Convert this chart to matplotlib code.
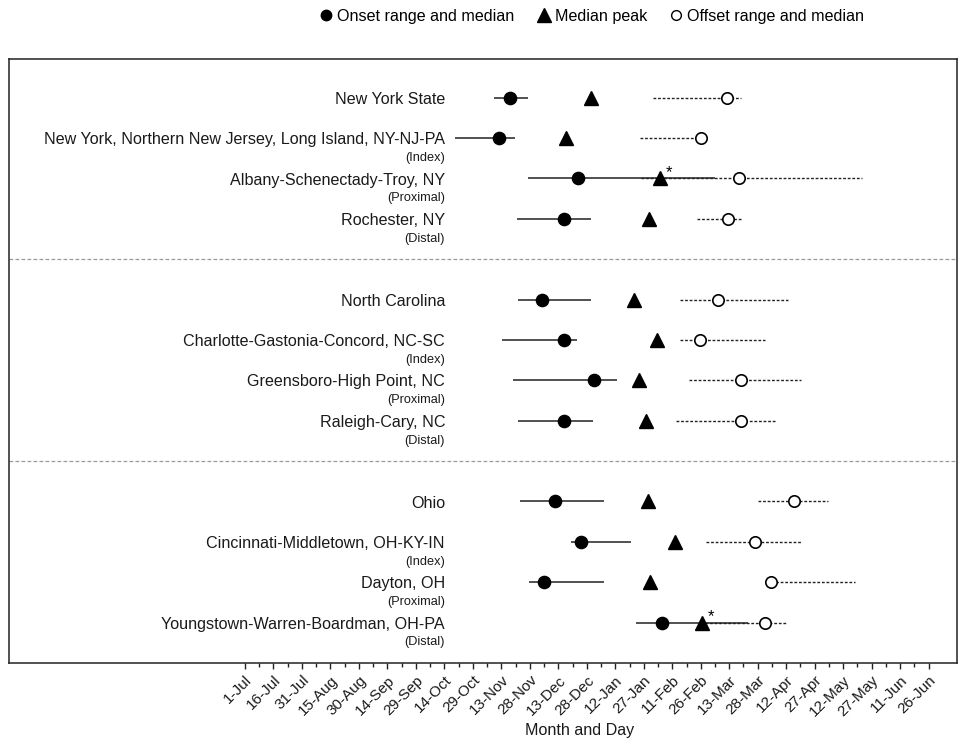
import matplotlib
matplotlib.use("Agg")
import matplotlib.pyplot as plt
from matplotlib.lines import Line2D
import matplotlib.transforms as mtransforms

plt.rcParams['font.family'] = ['Liberation Sans', 'DejaVu Sans']

# ---- data (days since 1-Jul) ----
labels = ["New York State",
          "New York, Northern New Jersey, Long Island, NY-NJ-PA",
          "Albany-Schenectady-Troy, NY",
          "Rochester, NY",
          "North Carolina",
          "Charlotte-Gastonia-Concord, NC-SC",
          "Greensboro-High Point, NC",
          "Raleigh-Cary, NC",
          "Ohio",
          "Cincinnati-Middletown, OH-KY-IN",
          "Dayton, OH",
          "Youngstown-Warren-Boardman, OH-PA"]
sublabels = ["", "(Index)", "(Proximal)", "(Distal)",
             "", "(Index)", "(Proximal)", "(Distal)",
             "", "(Index)", "(Proximal)", "(Distal)"]
row_pos = [0, 1, 2, 3, 5, 6, 7, 8, 10, 11, 12, 13]
separators = [4, 9]

onset_lo  = [131, 110.6, 149, 143, 143.5, 135.5, 141, 143.5, 145, 171.5, 149.5, 206]
onset_med = [139.5, 134, 175.5, 168, 156.5, 168, 184, 168, 163, 177, 157.5, 219.5]
onset_hi  = [149, 142, 247.5, 182, 182, 175, 196, 183, 189, 203.5, 189, 265]
peak      = [182, 169, 218.5, 213, 205, 217, 207.5, 211, 212, 226.5, 213.5, 240.5]
peak_star = [False, False, True, False, False, False, False, False, False, False, False, True]
offset_lo  = [215, 208, 208.5, 238, 229, 229, 234, 227, 270, 242.5, 277, 242]
offset_med = [254, 240, 260, 254.5, 249, 239.5, 261, 261, 289, 268.5, 277, 274]
offset_hi  = [261, 240, 325, 261, 286, 274, 293, 279, 307, 293, 321, 285.5]

tick_days = list(range(0, 361, 15))
tick_labels = ["1-Jul", "16-Jul", "31-Jul", "15-Aug", "30-Aug", "14-Sep", "29-Sep",
               "14-Oct", "29-Oct", "13-Nov", "28-Nov", "13-Dec", "28-Dec", "12-Jan",
               "27-Jan", "11-Feb", "26-Feb", "13-Mar", "28-Mar", "12-Apr", "27-Apr",
               "12-May", "27-May", "11-Jun", "26-Jun"]

# ---- figure ----
fig = plt.figure(figsize=(9.58, 7.46), dpi=100)
W, H = 958, 746
left_px, right_px, top_px, bot_px = 9, 957, 59, 663
ax = fig.add_axes([left_px / W, 1 - bot_px / H, (right_px - left_px) / W, (bot_px - top_px) / H])

px_per_day = 1.899
x0_px = 245
row_px0, row_step = 97.7, 40.38
ax.set_xlim((left_px - x0_px) / px_per_day, (right_px - x0_px) / px_per_day)
ax.set_ylim((bot_px - row_px0) / row_step, (top_px - row_px0) / row_step)

for s in ax.spines.values():
    s.set_linewidth(1.1)
    s.set_color('#222222')

# separators
for s in separators:
    ax.axhline(s, color='#9a9a9a', lw=0.9, ls=(0, (3, 1.8)), zorder=1)

for i, y in enumerate(row_pos):
    # offset dashed
    ax.plot([offset_lo[i], offset_hi[i]], [y, y], color='#222222', lw=1.0,
            ls=(0, (2, 1.3)), zorder=2)
    # onset solid
    ax.plot([onset_lo[i], onset_hi[i]], [y, y], color='#222222', lw=1.1,
            solid_capstyle='butt', zorder=2)
    ax.plot(peak[i], y, marker='^', ms=10.5, color='black', ls='none', zorder=4)
    ax.plot(onset_med[i], y, marker='o', ms=8.8, color='black', ls='none', zorder=5)
    ax.plot(offset_med[i], y, marker='o', ms=8.2, mfc='white', mec='black',
            mew=1.2, ls='none', zorder=5)
    if peak_star[i]:
        ax.annotate('*', xy=(peak[i], y), xytext=(4, -1), textcoords='offset points',
                    fontsize=12, ha='left', va='bottom', zorder=6)

# row labels
trans = mtransforms.blended_transform_factory(ax.transAxes, ax.transData)
lab_x = (445 - left_px) / (right_px - left_px)
for i, y in enumerate(row_pos):
    ax.text(lab_x, y + 0.04, labels[i], transform=trans, ha='right', va='center',
            fontsize=11.6, color='#1a1a1a')
    if sublabels[i]:
        ax.text(lab_x, y + 0.49, sublabels[i], transform=trans, ha='right',
                va='center', fontsize=9.2, color='#1a1a1a')

# x axis ticks
ax.set_xticks(tick_days)
ax.set_xticklabels(tick_labels, rotation=45, ha='right', rotation_mode='anchor',
                   fontsize=11)
ax.set_xticks([d + 7.5 for d in tick_days[:-1]], minor=True)
ax.tick_params(axis='x', which='major', direction='out', length=4.2, width=1.0,
               pad=3, colors='#222222', labelcolor='#1a1a1a')
ax.tick_params(axis='x', which='minor', direction='out', length=2.6, width=1.0,
               colors='#222222')
ax.set_yticks([])
ax.set_xlabel("Month and Day", fontsize=11.6, color='#1a1a1a')
ax.xaxis.set_label_coords((580 - left_px) / (right_px - left_px), -0.1)

# legend
handles = [Line2D([], [], marker='o', ls='none', color='black', ms=7.5),
           Line2D([], [], marker='^', ls='none', color='black', ms=9.5),
           Line2D([], [], marker='o', ls='none', mfc='white', mec='black', mew=1.0, ms=7)]
fig.legend(handles, ["Onset range and median", "Median peak", "Offset range and median"],
           loc='center', bbox_to_anchor=(592 / W, 1 - 16 / H), ncol=3, frameon=False,
           fontsize=11.6, handlelength=0.8, handletextpad=0.3, columnspacing=1.4)

fig.savefig("out.png", dpi=100)
